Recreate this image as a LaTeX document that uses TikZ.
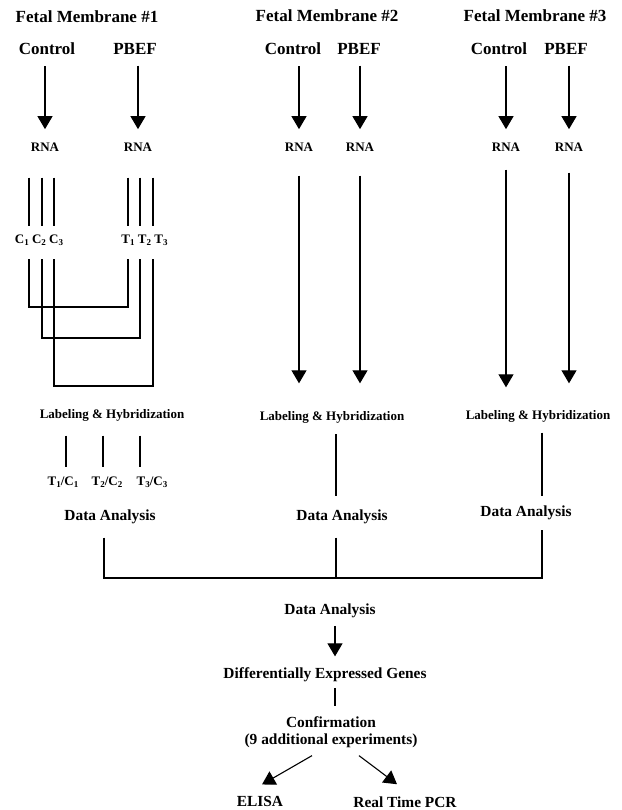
\documentclass[tikz,border=0pt]{standalone}
\usepackage{fontspec}
\setmainfont{Liberation Serif}
\usepackage{tikz}
\usetikzlibrary{
	arrows.meta,calc
}

\newcommand{\subn}[1]{\raisebox{-2.2pt}{\fontsize{9}{9}\selectfont #1}}

\tikzset{
	ttl/.style={font=\fontsize{17}{20}\selectfont\bfseries},
	dtxt/.style={font=\fontsize{15.4}{16.7}\selectfont\bfseries},
	stxt/.style={font=\fontsize{13}{15}\selectfont\bfseries},
	arr/.style={-{Triangle[width=15pt,length=13pt]}},
}

\begin{document}
\begin{tikzpicture}[x=1pt,y=-1pt,inner sep=0pt,line width=1.1pt]
		\useasboundingbox (0,0) rectangle (621,810);

		\node[ttl] (fm1) at (87,16.4) {Fetal Membrane \#1};
		\node[ttl] (fm2) at (327,15.5) {Fetal Membrane \#2};
		\node[ttl] (fm3) at (535,15.5) {Fetal Membrane \#3};

		\node[ttl] (con1) at (47,49) {Control};
		\node[ttl] (pb1) at (135,49) {PBEF};
		\node[ttl] (con2) at (293,49) {Control};
		\node[ttl] (pb2) at (359,49) {PBEF};
		\node[ttl] (con3) at (499,49) {Control};
		\node[ttl] (pb3) at (566,49) {PBEF};

		\node[stxt] (r1) at (45,147) {RNA};
		\node[stxt] (r1') at (138,147) {RNA};
		\node[stxt] (r2) at (299,147) {RNA};
		\node[stxt] (r2') at (360,147) {RNA};
		\node[stxt] (r3) at (506,147) {RNA};
		\node[stxt] (r3') at (569,147) {RNA};

		\node[stxt] (cl) at (39,240) {C\subn1 C\subn2 C\subn3};
		\node[stxt] (tl) at (144.5,240) {T\subn1 T\subn2 T\subn3};

		\node[stxt] (lh1) at (112,415.5) {Labeling \& Hybridization};
		\node[stxt] (lh2) at (332,417) {Labeling \& Hybridization};
		\node[stxt] (lh3) at (538,416) {Labeling \& Hybridization};

		\node[stxt] (rc1) at (63,482) {T\subn1/C\subn1};
		\node[stxt] (rc2) at (107,482) {T\subn2/C\subn2};
		\node[stxt] (rc3) at (152,482) {T\subn3/C\subn3};

		\node[dtxt] (da1) at (110,517) {Data Analysis};
		\node[dtxt] (da2) at (342,517) {Data Analysis};
		\node[dtxt] (da3) at (526,513) {Data Analysis};

		\node[dtxt] (da4) at (330,611) {Data Analysis};
		\node[dtxt] (dg) at (325,675) {Differentially Expressed Genes};
		\node[dtxt,align=center,anchor=north] (conf) at (331,716) {Confirmation\\(9 additional experiments)};
		\node[dtxt] (elisa) at (260,801.9) {ELISA};
		\node[dtxt] (rtp) at (405,801.9) {Real Time PCR};

		% join points
		\coordinate (j1) at (104,578);
		\coordinate (j2) at (336,578);
		\coordinate (j3) at (542,578);
		\coordinate (k) at (335,0);
		%
		\path[arr]
		(r1 |- con1.south) edge[shorten <=10.5pt,shorten >=13pt] (r1.north)
		(r1' |- pb1.south) edge[shorten <=10.5pt,shorten >=13pt] (r1'.north)
		(r2 |- con2.south) edge[shorten <=10.5pt,shorten >=13pt] (r2.north)
		(r2' |- pb2.south) edge[shorten <=10.5pt,shorten >=13pt] (r2'.north)
		(r3 |- con3.south) edge[shorten <=10.5pt,shorten >=13pt] (r3.north)
		(r3' |- pb3.south) edge[shorten <=10.5pt,shorten >=13pt] (r3'.north)

		(r2.south) edge[shorten <=23.7pt,shorten >=27.2pt] (r2 |- lh2.north)
		(r2'.south) edge[shorten <=23.7pt,shorten >=27.2pt] (r2' |- lh2.north)
		(r3.south) edge[shorten <=17.7pt,shorten >=22.2pt] (r3 |- lh3.north)
		(r3'.south) edge[shorten <=20.7pt,shorten >=26.2pt] (r3' |- lh3.north)

		(k |- da4.south) edge[shorten <=7.3pt,shorten >=11pt] (k |- dg.north)
		([shift={(-19,7.7)}]conf.south) edge ([shift={(2,-11.7)}]elisa.north)
		([shift={(28,7.7)}]conf.south) edge ([shift={(-8,-11.7)}]rtp.north);

		\foreach \c/\t/\lv [count=\i] in {29/128/307,42/140/338,54/153/386} {
			\coordinate (cx\i) at (\c,\lv);
			\coordinate (tx\i) at (\t,\lv);
			\draw[shorten <=25.7pt,shorten >=8.5pt] (cx\i |- r1.south) -- (cx\i |- cl.north);
			\draw[shorten <=25.7pt,shorten >=8.5pt] (tx\i |- r1'.south) -- (tx\i |- tl.north);
			\draw[shorten <=13.5pt,shorten >=13.5pt] (cx\i |- cl.south) |- (tx\i) -- (tx\i |- tl.south);
		}

		\foreach \x [count=\i] in {66,103,140} {
			\coordinate (lx\i) at (\x,0);
			\draw[shorten <=13.7pt,shorten >=9.5pt] (lx\i |- lh1.south) -- (lx\i |- rc\i.north);
		}

		\draw[shorten <=10.7pt,shorten >=13pt] (j2 |- lh2.south) -- (j2 |- da2.north);
		\draw[shorten <=10.2pt,shorten >=9pt] (j3 |- lh3.south) -- (j3 |- da3.north);

		\draw[shorten <=13pt,shorten >=9pt] (j1 |- da1.south) -- (j1) -- (j3) -- (j3 |- da3.south);
		\draw[shorten <=13pt] (j2 |- da2.south) -- (j2);

		\draw[shorten <=5.3pt,shorten >=10pt] (k |- dg.south) -- (k |- conf.north);

	\end{tikzpicture}
\end{document}
